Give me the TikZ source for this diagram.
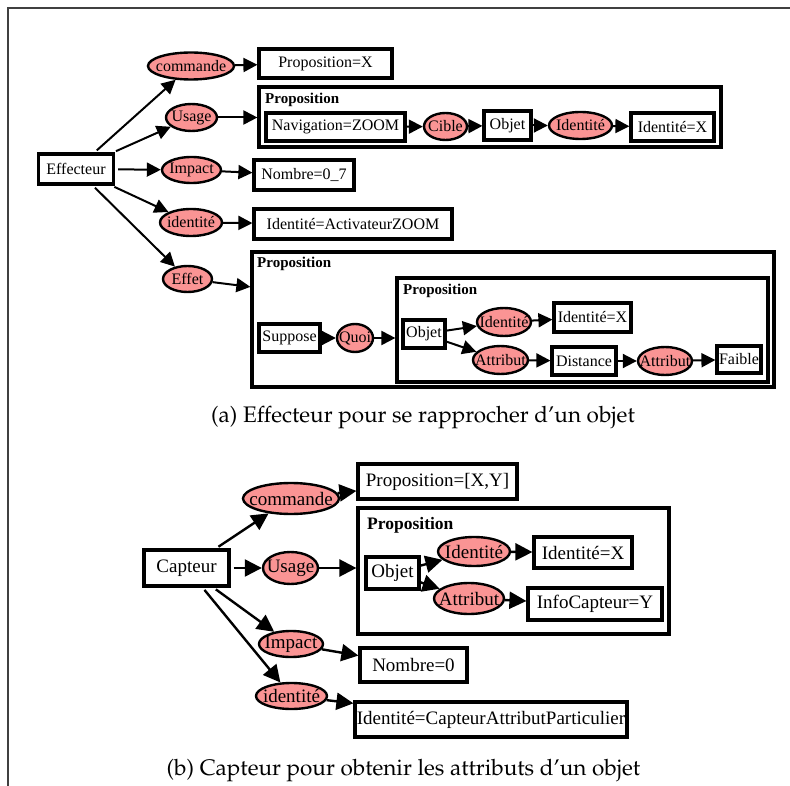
\documentclass[tikz,border=0pt]{standalone}
\usepackage[T1,TU]{fontenc}
\usepackage{fontspec}
\setmainfont{Liberation Serif}
\usetikzlibrary{arrows.meta,shapes.geometric}
\definecolor{salmon}{RGB}{250,148,148}
\newcommand\mycapfont{\fontencoding{T1}\fontfamily{ppl}\fontsize{22.5}{27}\selectfont}
\begin{document}
\begin{tikzpicture}[x=1pt,y=-1pt,
  bx/.style={draw, rectangle, fill=white, line width=3.2pt, inner sep=0pt, label={center:#1}},
  elp/.style={draw, ellipse, fill=salmon, line width=2.4pt, inner sep=0pt, label={center:#1}},
  cont/.style={draw, rectangle, line width=3.2pt, inner sep=0pt},
  lbl/.style={anchor=base west, inner sep=0pt},
  arA/.style={-{Triangle[length=14pt,width=14pt]}, line width=2pt},
  arB/.style={-{Triangle[length=17pt,width=17pt]}, line width=2.4pt}]
\useasboundingbox (0,0) rectangle (790,786);
\draw[line width=1.3pt, black!75] (8,786) -- (8,8) -- (790,8);

% ---------- (a)
\begin{scope}[font=\fontsize{16}{18}\selectfont]
\node[cont, minimum width=462, minimum height=60] (c1) at (490,117) {};
\node[cont, minimum width=522, minimum height=135] (c2) at (513,319.5) {};
\node[cont, minimum width=371, minimum height=104] (c3) at (582.5,330) {};
\node[lbl, font=\fontsize{15}{17}\selectfont\bfseries] (l1) at (265,104) {Proposition};
\node[lbl, font=\fontsize{15}{17}\selectfont\bfseries] (l2) at (257,268) {Proposition};
\node[lbl, font=\fontsize{15}{17}\selectfont\bfseries] (l3) at (403,295) {Proposition};

\node[bx={Effecteur}, minimum width=75, minimum height=30] (eff) at (76,169) {};
\node[elp={commande}, minimum width=86, minimum height=27] (cmd) at (191,66) {};
\node[bx={Proposition=X}, minimum width=133, minimum height=29] (px) at (325.5,63.5) {};
\node[elp={Usage}, minimum width=51, minimum height=27] (usa) at (191.5,117.5) {};
\node[bx={Navigation=ZOOM}, minimum width=139, minimum height=28] (nav) at (335.5,127) {};
\node[elp={Cible}, minimum width=43, minimum height=27] (cib) at (445.5,126.5) {};
\node[bx={Objet}, minimum width=47, minimum height=29] (ob1) at (507.5,125.5) {};
\node[elp={Identité}, minimum width=63, minimum height=27] (id1) at (580.5,125.5) {};
\node[bx={Identité=X}, minimum width=83, minimum height=28] (ix1) at (672.5,127) {};
\node[elp={Impact}, minimum width=59, minimum height=26] (imp) at (191.5,170) {};
\node[bx={Nombre=0\_7}, minimum width=100, minimum height=30] (nb7) at (304,175) {};
\node[elp={identité}, minimum width=62, minimum height=27] (idn) at (191,222.5) {};
\node[bx={Identité=ActivateurZOOM}, minimum width=198, minimum height=30] (ida) at (353,224) {};
\node[elp={Effet}, minimum width=49, minimum height=26] (eft) at (187.5,279) {};
\node[bx={Suppose}, minimum width=61, minimum height=28] (sup) at (289.5,338) {};
\node[elp={Quoi}, minimum width=36, minimum height=28] (quo) at (355,338) {};
\node[bx={Objet}, minimum width=42, minimum height=28] (ob2) at (424,334) {};
\node[elp={Identité}, minimum width=54, minimum height=28] (id2) at (504,322) {};
\node[bx={Identité=X}, minimum width=77, minimum height=29] (ix2) at (592.5,317.5) {};
\node[elp={Attribut}, minimum width=55, minimum height=28] (at1) at (500.5,360) {};
\node[bx={Distance}, minimum width=64, minimum height=28] (dis) at (584,361) {};
\node[elp={Attribut}, minimum width=54, minimum height=28] (at2) at (665,361) {};
\node[bx={Faible}, minimum width=44, minimum height=27] (fai) at (739,359.5) {};

\draw[arA, shorten <=3pt] (eff) -- (cmd);
\draw[arA] (cmd) -- (px);
\draw[arA, shorten <=3pt] (eff) -- (usa);
\draw[arA] (usa) -- (usa -| c1.west);
\draw[arA] (nav) -- (cib);
\draw[arA] (cib) -- (ob1);
\draw[arA] (ob1) -- (id1);
\draw[arA] (id1) -- (ix1);
\draw[arA, shorten <=3pt] (eff) -- (imp);
\draw[arA] (imp) -- (nb7);
\draw[arA, shorten <=3pt] (eff) -- (idn);
\draw[arA] (idn) -- (ida);
\draw[arA, shorten <=3pt] (eff) -- (eft);
\draw[arA] (eft) -- (c2);
\draw[arA] (sup) -- (quo);
\draw[arA] (quo) -- (quo -| c3.west);
\draw[arA] (ob2) -- (id2);
\draw[arA] (ob2) -- (at1);
\draw[arA] (id2) -- (ix2);
\draw[arA] (at1) -- (dis);
\draw[arA] (dis) -- (at2);
\draw[arA] (at2) -- (fai);
\end{scope}

\node[anchor=base, font=\mycapfont] (capa) at (423,422) {(a) Effecteur pour se rapprocher d'un objet};

% ---------- (b)
\begin{scope}[font=\fontsize{19}{22}\selectfont]
\node[cont, minimum width=311, minimum height=126] (c4) at (513.5,571) {};
\node[lbl, font=\fontsize{17.5}{20}\selectfont\bfseries] (l4) at (367,529) {Proposition};

\node[bx={Capteur}, minimum width=85, minimum height=36] (cap) at (186.5,568) {};
\node[elp={commande}, minimum width=96, minimum height=31] (cm2) at (291,498.5) {};
\node[bx={Proposition=[X,Y]}, minimum width=159, minimum height=35] (pxy) at (437.5,481.5) {};
\node[elp={Usage}, minimum width=55, minimum height=32] (us2) at (290.5,568) {};
\node[bx={Objet}, minimum width=53, minimum height=32] (ob3) at (392.5,573) {};
\node[elp={Identité}, minimum width=72, minimum height=29] (id3) at (474,551.5) {};
\node[bx={Identité=X}, minimum width=98, minimum height=31] (ix3) at (583,552.5) {};
\node[elp={Attribut}, minimum width=70, minimum height=31] (at3) at (469,598.5) {};
\node[bx={InfoCapteur=Y}, minimum width=134, minimum height=32] (inf) at (595,604) {};
\node[elp={Impact}, minimum width=64, minimum height=26] (im2) at (291,644) {};
\node[bx={Nombre=0}, minimum width=107, minimum height=34] (nb0) at (413.5,665) {};
\node[elp={identité}, minimum width=71, minimum height=26] (in2) at (291.5,696) {};
\node[bx={Identité=CapteurAttributParticulier}, minimum width=272, minimum height=35] (idc) at (491,719.5) {};

\draw[arB, shorten <=3pt] (cap) -- (cm2);
\draw[arB] (cm2) -- (pxy);
\draw[arB, shorten <=3pt] (cap) -- (us2);
\draw[arB] (us2) -- (us2 -| c4.west);
\draw[arB] (ob3) -- (id3);
\draw[arB] (ob3) -- (at3);
\draw[arB] (id3) -- (ix3);
\draw[arB] (at3) -- (inf);
\draw[arB, shorten <=3pt] (cap) -- (im2);
\draw[arB] (im2) -- (nb0);
\draw[arB, shorten <=3pt] (cap) -- (in2);
\draw[arB] (in2) -- (idc);
\end{scope}

\node[anchor=base, font=\mycapfont] (capb) at (403.5,775) {(b) Capteur pour obtenir les attributs d'un objet};
\end{tikzpicture}
\end{document}
